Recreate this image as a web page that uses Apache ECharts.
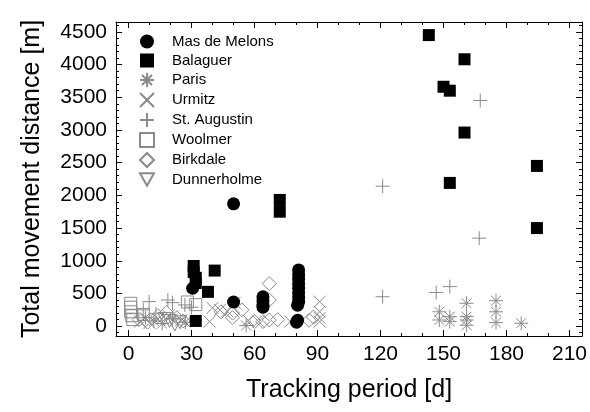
<!DOCTYPE html>
<html>
<head>
<meta charset="utf-8">
<script src="https://cdn.jsdelivr.net/npm/echarts@6/dist/echarts.min.js"></script>
<style>
  html, body { margin: 0; padding: 0; background: #fff; }
  #chart { width: 590px; height: 412px; }
</style>
</head>
<body>
<div id="chart"></div>
<script>
// Tracking period [d] vs total movement distance [m] per site
const masDeMelons = [
  [30.5, 580], [50, 1870], [50, 370],
  [64, 450], [64, 390], [64, 330], [64, 290],
  [81, 860], [81, 790], [81, 720], [81, 650], [81, 580], [81, 510], [81, 440], [81, 370], [80.5, 320],
  [80.5, 90], [80, 60]
];
const balaguer = [
  [31, 920], [31, 830], [32, 740], [32, 660], [41, 850], [37.8, 525], [32, 80],
  [72, 1930], [72, 1750],
  [143, 4450], [160, 4080], [150, 3660], [153, 3600], [160, 2960],
  [194.5, 2450], [153, 2190], [194.5, 1500]
];
const paris = [
  [148, 220], [148, 95], [153, 145], [153, 70],
  [161, 350], [161, 145], [161, 95], [161, 15],
  [175, 390], [175, 220], [175, 55], [187, 45],
  [56, 10], [8, 130], [12, 80], [16, 40], [21, 110], [27, 60]
];
const urmitz = [
  [91, 375], [91, 220], [91, 125], [91, 70],
  [62, 70], [77, 70], [50.5, 355], [38.6, 70],
  [10, 50], [5.5, 70], [40, 280], [43.5, 250],
  [14, 110], [19, 160], [25, 90], [47, 230], [57, 90]
];
const stAugustin = [
  [167.5, 3450], [167, 1345], [121, 2140], [121, 450], [146.5, 515], [153, 605],
  [9.8, 375], [18.7, 400], [20.9, 360], [26.8, 325], [7, 250], [13, 190], [30, 290]
];
const woolmer = [
  [1, 350], [1, 290], [1, 220], [1.5, 160], [2, 100], [28, 370], [32, 330], [7, 180]
];
const birkdale = [
  [67, 650], [67, 400], [67, 95], [64, 70], [44, 220], [49.5, 200], [49.5, 130], [60, 70],
  [5, 100], [9, 60], [14, 160], [18, 210], [23, 130], [26, 80], [54, 250], [71, 100], [86, 90], [88, 140]
];
const dunnerholme = [
  [19.5, 80], [22, 25], [24.5, 60], [17, 110]
];

const seriesNames = ['Mas de Melons', 'Balaguer', 'Paris', 'Urmitz', 'St. Augustin', 'Woolmer', 'Birkdale', 'Dunnerholme'];

const xMajorTicks = [0, 30, 60, 90, 120, 150, 180, 210];
const xMinorTicks = [10, 20, 40, 50, 70, 80, 100, 110, 130, 140, 160, 170, 190, 200];
const yMajorTicks = [0, 500, 1000, 1500, 2000, 2500, 3000, 3500, 4000, 4500];
const yMinorTicks = [];
for (let v = -100; v <= 4600; v += 100) {
  if (v % 500 !== 0) yMinorTicks.push(v);
}

const X_MIN = -6, X_MAX = 216;
const Y_MIN = -150, Y_MAX = 4650;

const FONT = 'Liberation Sans, Arial, sans-serif';
const GRAY = '#8a8a8a';

// Line-drawn marker shapes
const SYM_X = 'path://M0,0L10,10M10,0L0,10';
const SYM_PLUS = 'path://M5,0L5,10M0,5L10,5';
const SYM_STAR = 'path://M1.46,1.46L8.54,8.54M8.54,1.46L1.46,8.54M5,0L5,10M0,5L10,5';
const SYM_TRI_DOWN = 'path://M0,0L10,0L5,9Z';

const plainNumber = v => String(v);

function majorX(position, showLabel) {
  return {
    type: 'value', position: position, min: X_MIN, max: X_MAX,
    axisLine: { show: true, onZero: false, lineStyle: { color: '#000', width: 1 } },
    axisTick: { show: true, inside: true, length: 6, customValues: xMajorTicks, lineStyle: { color: '#000' } },
    axisLabel: showLabel ? { show: true, customValues: xMajorTicks, formatter: plainNumber, fontSize: 21, color: '#000', fontFamily: FONT, margin: 8 } : { show: false },
    splitLine: { show: false }
  };
}
function minorX(position) {
  return {
    type: 'value', position: position, min: X_MIN, max: X_MAX,
    axisLine: { show: false, onZero: false },
    axisTick: { show: true, inside: true, length: 3, customValues: xMinorTicks, lineStyle: { color: '#000' } },
    axisLabel: { show: false },
    splitLine: { show: false }
  };
}
function majorY(position, showLabel) {
  return {
    type: 'value', position: position, min: Y_MIN, max: Y_MAX,
    axisLine: { show: true, onZero: false, lineStyle: { color: '#000', width: 1 } },
    axisTick: { show: true, inside: true, length: 6, customValues: yMajorTicks, lineStyle: { color: '#000' } },
    axisLabel: showLabel ? { show: true, customValues: yMajorTicks, formatter: plainNumber, fontSize: 21, color: '#000', fontFamily: FONT, margin: 9 } : { show: false },
    splitLine: { show: false }
  };
}
function minorY(position) {
  return {
    type: 'value', position: position, min: Y_MIN, max: Y_MAX,
    axisLine: { show: false, onZero: false },
    axisTick: { show: true, inside: true, length: 3, customValues: yMinorTicks, lineStyle: { color: '#000' } },
    axisLabel: { show: false },
    splitLine: { show: false }
  };
}

const xBottom = majorX('bottom', true);
xBottom.name = 'Tracking period [d]';
xBottom.nameLocation = 'middle';
xBottom.nameGap = 42;
xBottom.nameTextStyle = { fontSize: 25, color: '#000', fontFamily: FONT };

const yLeft = majorY('left', true);
yLeft.name = 'Total movement distance [m]';
yLeft.nameLocation = 'middle';
yLeft.nameGap = 71;
yLeft.nameTextStyle = { fontSize: 25, color: '#000', fontFamily: FONT };

function openStyle() {
  return { color: 'rgba(0,0,0,0)', borderColor: GRAY, borderWidth: 1, opacity: 1 };
}
const solidStyle = { color: '#000', opacity: 1 };

const option = {
  animation: false,
  backgroundColor: '#fff',
  grid: { left: 116, top: 22, right: 6, bottom: 76, containLabel: false },
  xAxis: [xBottom, minorX('bottom'), majorX('top', false), minorX('top')],
  yAxis: [yLeft, minorY('left'), majorY('right', false), minorY('right')],
  legend: {
    data: seriesNames,
    orient: 'vertical',
    left: 134, top: 29,
    itemWidth: 14, itemHeight: 14, itemGap: 4,
    textStyle: { fontSize: 15, color: '#000', fontFamily: FONT, padding: [0, 0, 0, 13] },
    selectedMode: false
  },
  series: [
    { name: 'Dunnerholme', type: 'scatter', data: dunnerholme, symbol: SYM_TRI_DOWN, symbolSize: 13, itemStyle: openStyle(), z: 2 },
    { name: 'Birkdale', type: 'scatter', data: birkdale, symbol: 'diamond', symbolSize: 14, itemStyle: openStyle(), z: 2 },
    { name: 'Woolmer', type: 'scatter', data: woolmer, symbol: 'rect', symbolSize: 12, itemStyle: openStyle(), z: 2 },
    { name: 'St. Augustin', type: 'scatter', data: stAugustin, symbol: SYM_PLUS, symbolSize: 14, itemStyle: openStyle(), z: 2 },
    { name: 'Urmitz', type: 'scatter', data: urmitz, symbol: SYM_X, symbolSize: 12, itemStyle: openStyle(), z: 2 },
    { name: 'Paris', type: 'scatter', data: paris, symbol: SYM_STAR, symbolSize: 14, itemStyle: openStyle(), z: 2 },
    { name: 'Balaguer', type: 'scatter', data: balaguer, symbol: 'rect', symbolSize: 12, itemStyle: solidStyle, z: 3 },
    { name: 'Mas de Melons', type: 'scatter', data: masDeMelons, symbol: 'circle', symbolSize: 13, itemStyle: solidStyle, z: 3 }
  ]
};

const chart = echarts.init(document.getElementById('chart'), null, { renderer: 'canvas' });
chart.setOption(option);
</script>
</body>
</html>
